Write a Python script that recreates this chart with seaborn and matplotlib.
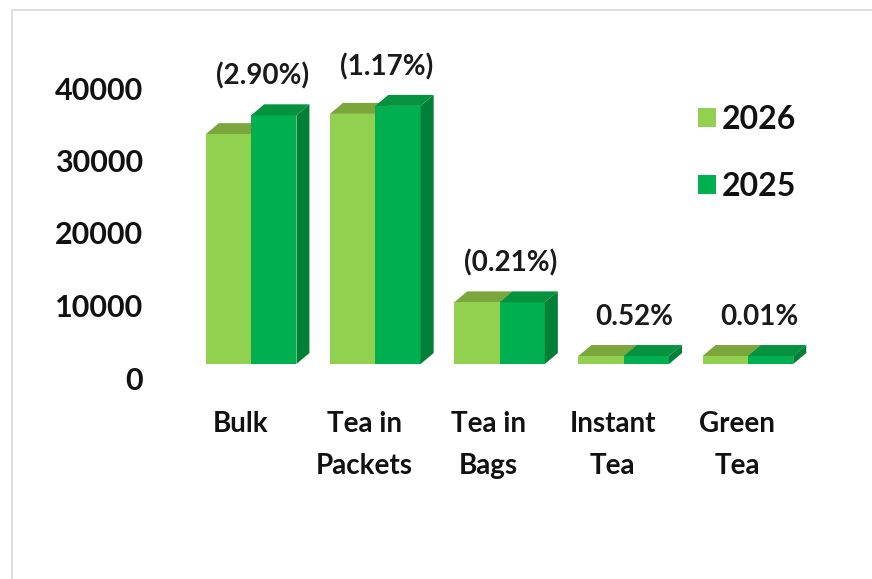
import matplotlib
matplotlib.use("Agg")
import matplotlib.pyplot as plt
from matplotlib.patches import Polygon, Rectangle
from matplotlib.transforms import ScaledTranslation
import pandas as pd
import seaborn as sns

# Tea volumes by product type
categories = ["Bulk", "Tea in\nPackets", "Tea in\nBags", "Instant\nTea", "Green\nTea"]
years = ["2026", "2025"]
values_2026 = [31700, 34500, 8500, 1100, 1100]
values_2025 = [34300, 35600, 8500, 1100, 1100]
changes = ["(2.90%)", "(1.17%)", "(0.21%)", "0.52%", "0.01%"]
y_ticks = [0, 10000, 20000, 30000, 40000]

front = {"2026": "#92D050", "2025": "#00B050"}
top_col = {"2026": "#7BA63B", "2025": "#06923F"}
side_col = {"2026": "#6E9830", "2025": "#007F36"}

df = pd.DataFrame({
    "category": categories * 2,
    "year": ["2026"] * len(categories) + ["2025"] * len(categories),
    "value": values_2026 + values_2025,
})

sns.set_theme(style="white")
plt.rcParams["font.family"] = ["Lato", "DejaVu Sans"]
plt.rcParams["font.weight"] = "bold"

W, H, DPI = 872, 579, 100
fig = plt.figure(figsize=(W / DPI, H / DPI), dpi=DPI)
fig.patch.set_facecolor("white")

# faint frame around the chart area
fig.patches.append(Rectangle((12 / W, -0.05), 1.2, (H - 10) / H + 0.05,
                             transform=fig.transFigure, fill=False,
                             edgecolor="#dedede", linewidth=1.4))

ymax = 300 / 72.5 * 10000
ax = fig.add_axes([189 / W, (H - 364) / H, 621 / W, 300 / H])
ax.set_facecolor("none")

sns.barplot(data=df, x="category", y="value", hue="year", hue_order=years,
            palette=front, width=0.73, linewidth=0, saturation=1,
            legend=False, ax=ax)
ax.set_xlim(-0.5, len(categories) - 0.5)
ax.set_ylim(0, ymax)

# pseudo-3D depth: top and side faces built from each bar's geometry
px_x = ax.bbox.width / (ax.get_xlim()[1] - ax.get_xlim()[0])
px_y = ax.bbox.height / (ax.get_ylim()[1] - ax.get_ylim()[0])
dx, dy = 13 / px_x, 11 / px_y

bars = [p for p in ax.patches]
n = len(categories)
for k, year in enumerate(years):
    for p in bars[k * n:(k + 1) * n]:
        x0, w, h = p.get_x(), p.get_width(), p.get_height()
        x1 = x0 + w
        z = 2 if year == "2026" else 4
        p.set_zorder(z + 1 if year == "2026" else z)
        top = Polygon([(x0, h), (x1, h), (x1 + dx, h + dy), (x0 + dx, h + dy)],
                      closed=True, facecolor=top_col[year], edgecolor="none",
                      zorder=z - 1 if year == "2026" else z)
        side = Polygon([(x1, 0), (x1, h), (x1 + dx, h + dy), (x1 + dx, dy)],
                       closed=True, facecolor=side_col[year], edgecolor="none",
                       zorder=z - 1 if year == "2026" else z)
        ax.add_patch(top)
        ax.add_patch(side)

# change labels above each pair
for i, txt in enumerate(changes):
    hmax = max(values_2026[i], values_2025[i])
    ax.annotate(txt, xy=(i, hmax + dy), xytext=(11, 28),
                textcoords="offset pixels", ha="center", va="center",
                fontsize=20, fontweight="bold", color="#1a1a1a",
                annotation_clip=False)

sns.despine(ax=ax, left=True, bottom=True)
ax.set_xlabel("")
ax.set_ylabel("")
ax.tick_params(axis="both", length=0)

ax.set_yticks(y_ticks)
ax.set_yticklabels([str(v) for v in y_ticks], fontsize=22, fontweight="bold",
                   color="#111111")
ax.tick_params(axis="y", pad=33)
for lab in ax.get_yticklabels():
    lab.set_transform(lab.get_transform() + ScaledTranslation(0, -14 / DPI, fig.dpi_scale_trans))

ax.set_xticks(range(n))
ax.set_xticklabels(categories, fontsize=20, fontweight="bold", color="#111111",
                   linespacing=1.75)
ax.tick_params(axis="x", pad=34)
for lab in ax.get_xticklabels():
    lab.set_transform(lab.get_transform() + ScaledTranslation(-11 / DPI, 0, fig.dpi_scale_trans))

handles = [Rectangle((0, 0), 1, 1, facecolor=front[y], edgecolor="none") for y in years]
leg = fig.legend(handles, years, loc="center left",
                 bbox_to_anchor=(698 / W, (H - 153) / H), frameon=False,
                 prop={"family": ["Lato", "DejaVu Sans"], "size": 23, "weight": "bold"},
                 handlelength=0.55, handleheight=0.55, handletextpad=0.2,
                 labelspacing=1.2, borderpad=0, borderaxespad=0)
for t in leg.get_texts():
    t.set_fontweight("bold")
    t.set_color("#111111")

fig.savefig("out.png", dpi=DPI, facecolor="white")
